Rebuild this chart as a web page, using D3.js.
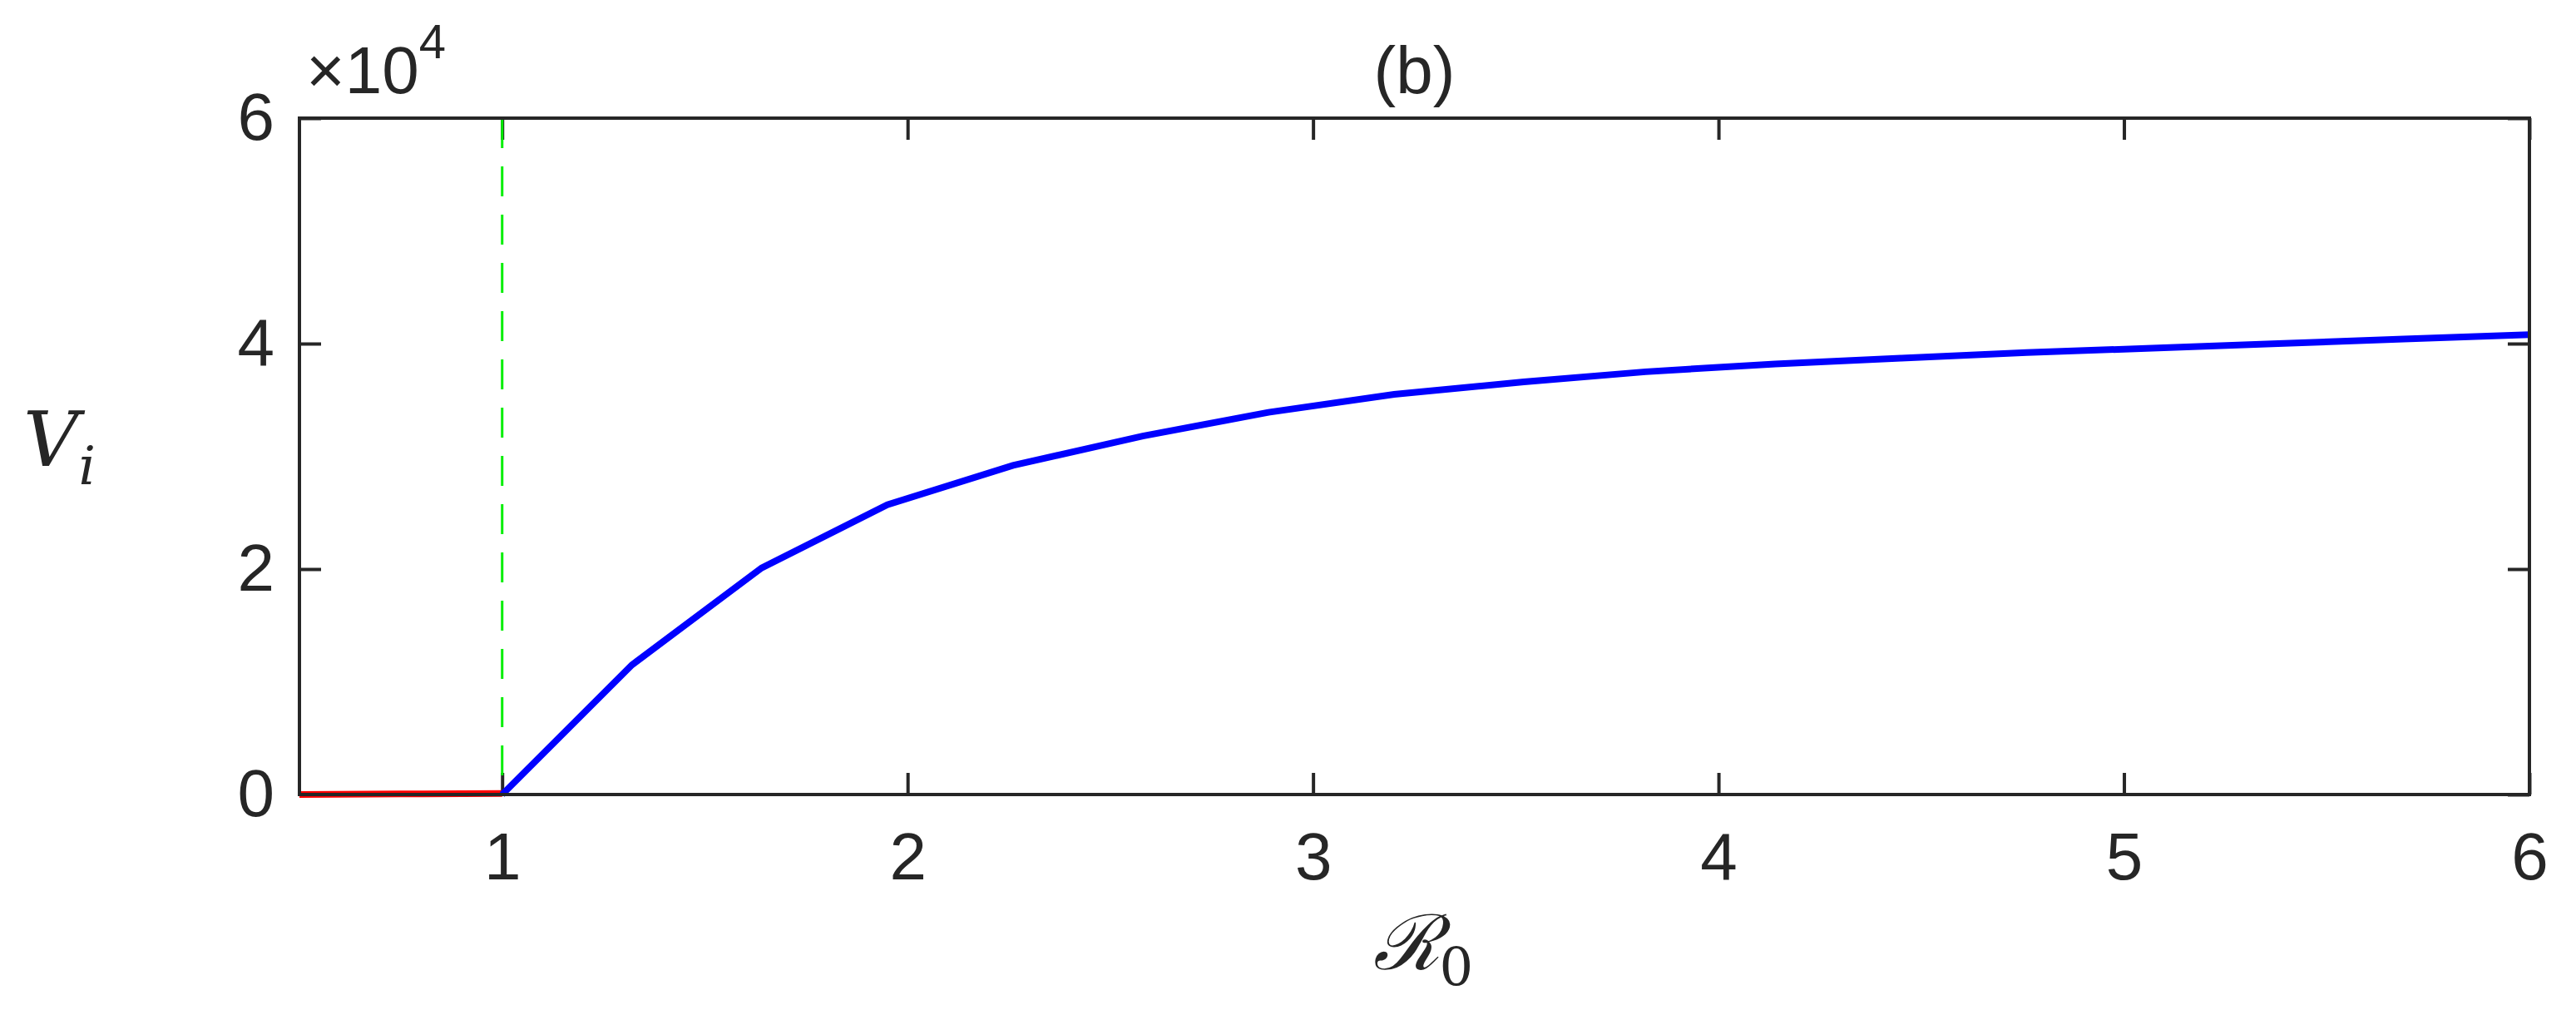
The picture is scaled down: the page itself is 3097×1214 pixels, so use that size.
<!DOCTYPE html>
<html><head><meta charset="utf-8">
<script src="https://cdn.jsdelivr.net/npm/d3@7"></script>
<style>body{margin:0;background:#fff}text{font-family:"Liberation Sans",Arial,sans-serif;fill:#262626}</style>
</head><body><svg id="c" width="3097" height="1214"></svg>
<script>
var redX = [0.5, 0.75, 1.0];
var redY = [0, 0.005, 0.01];
var blueX = [1.0, 1.32, 1.64, 1.95, 2.26, 2.58, 2.89, 3.2, 3.52, 3.82, 4.14, 4.45, 4.76, 5.07, 5.38, 5.69, 6.0];
var blueY = [0, 1.15, 2.01, 2.57, 2.92, 3.18, 3.39, 3.55, 3.66, 3.75, 3.82, 3.87, 3.92, 3.96, 4.0, 4.04, 4.08];
var xTicks = [1, 2, 3, 4, 5, 6];
var yTicks = [0, 2, 4, 6];

var m = {l: 360, r: 3041, t: 142, b: 955};
var svg = d3.select('#c');
var x = d3.scaleLinear().domain([0.5, 6]).range([m.l, m.r]);
var y = d3.scaleLinear().domain([0, 6]).range([m.b, m.t]);
var tl = 26, fs = '80px';

function axis(g, gen) { g.call(gen); g.select('.domain').remove();
  g.selectAll('line').attr('stroke', '#262626').attr('stroke-width', 4);
  g.selectAll('text').style('font-size', fs).attr('fill', '#262626'); }

svg.append('g').attr('transform', 'translate(0,' + m.b + ')')
  .call(g => axis(g, d3.axisTop(x).tickValues(xTicks).tickSize(tl).tickFormat(d3.format('d'))))
  .selectAll('text').attr('y', 45).attr('dy', '0.71em');
svg.append('g').attr('transform', 'translate(0,' + m.t + ')')
  .call(g => axis(g, d3.axisBottom(x).tickValues(xTicks).tickSize(tl).tickFormat('')));
svg.append('g').attr('transform', 'translate(' + m.l + ',0)')
  .call(g => axis(g, d3.axisRight(y).tickValues(yTicks).tickSize(tl).tickFormat(d3.format('d'))))
  .selectAll('text').attr('x', -30).attr('text-anchor', 'end');
svg.append('g').attr('transform', 'translate(' + m.r + ',0)')
  .call(g => axis(g, d3.axisLeft(y).tickValues(yTicks).tickSize(tl).tickFormat('')));

// dashed threshold line at R0 = 1
svg.append('line').attr('x1', x(1)).attr('x2', x(1)).attr('y1', y(6)).attr('y2', y(0))
  .attr('stroke', '#00ee00').attr('stroke-width', 3).attr('stroke-dasharray', '36,22');

var line = d3.line().x(d => x(d[0])).y(d => y(d[1]));
svg.append('path').datum(d3.zip(redX, redY)).attr('d', line)
  .attr('fill', 'none').attr('stroke', '#ff0000').attr('stroke-width', 8);
svg.append('path').datum(d3.zip(blueX, blueY)).attr('d', line)
  .attr('fill', 'none').attr('stroke', '#0000ff').attr('stroke-width', 8);

svg.append('rect').attr('x', m.l).attr('y', m.t).attr('width', m.r - m.l).attr('height', m.b - m.t)
  .attr('fill', 'none').attr('stroke', '#262626').attr('stroke-width', 4);

svg.append('text').attr('x', (m.l + m.r) / 2).attr('y', 112).attr('text-anchor', 'middle')
  .style('font-size', fs).text('(b)');
var ex = svg.append('text').attr('x', m.l + 8).attr('y', 112).style('font-size', fs);
ex.append('tspan').text('\u00d710');
ex.append('tspan').attr('dy', -42).style('font-size', '58px').text('4');

var yl = svg.append('text').attr('x', 28).attr('y', 560).style('font-family', '"DejaVu Serif",serif')
  .style('font-style', 'italic').style('font-size', '92px').attr('fill', '#000');
yl.append('tspan').text('V');
yl.append('tspan').attr('dy', 22).style('font-size', '64px').text('i');

var xl = svg.append('text').attr('x', (m.l + m.r) / 2 - 50).attr('y', 1165)
  .style('font-family', '"DejaVu Serif",serif').style('font-size', '92px').attr('fill', '#000');
xl.append('tspan').style('font-style', 'italic').text('\u211b');
xl.append('tspan').attr('dy', 20).style('font-size', '64px').text('0');
</script></body></html>
